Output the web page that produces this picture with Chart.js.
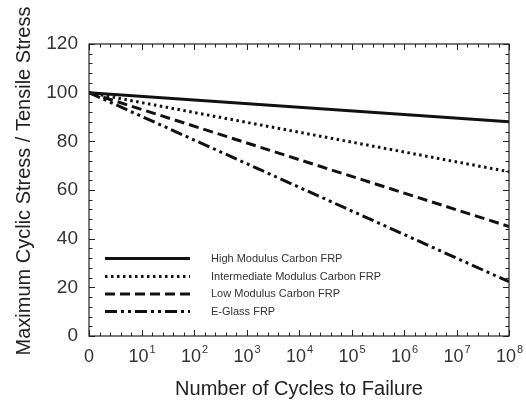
<!DOCTYPE html>
<html><head><meta charset="utf-8">
<script src="https://cdn.jsdelivr.net/npm/chart.js@4.4.1/dist/chart.umd.min.js"></script>
<style>html,body{margin:0;padding:0;background:#fff;}#wrap{width:526px;height:405px;}</style>
</head><body><div id="wrap"><canvas id="c" width="526" height="405"></canvas></div>
<script>
const seriesNames = ["High Modulus Carbon FRP","Intermediate Modulus Carbon FRP","Low Modulus Carbon FRP","E-Glass FRP"];
const logCycles = [0, 8];
const highModulus = [100, 88];
const intermediateModulus = [100, 67.5];
const lowModulus = [100, 45];
const eGlass = [100, 22.3];
const xTickExponents = [0,1,2,3,4,5,6,7,8];
const yTicks = [0,20,40,60,80,100,120];
const yTitle = "Maximum Cyclic Stress / Tensile Stress";
const xTitle = "Number of Cycles to Failure";

const FONT = "'Liberation Sans', Arial, sans-serif";
const styles = [[], [2.5,3.5], [10,5], [12,4,3,4,3,4]];
const allSeries = [highModulus, intermediateModulus, lowModulus, eGlass];

const datasets = allSeries.map((vals,i)=>({
  label: seriesNames[i],
  data: logCycles.map((x,j)=>({x:x,y:vals[j]})),
  borderColor:'#111', borderWidth: 3, borderDash: styles[i],
  pointRadius:0, fill:false, tension:0
}));

const framePlugin = {
  id:'frame',
  afterDatasetsDraw(chart){
    const ctx = chart.ctx, a = chart.chartArea;
    const xs = chart.scales.x, ys = chart.scales.y;
    ctx.save();
    ctx.strokeStyle='#222'; ctx.lineWidth=1.2;
    ctx.strokeRect(a.left, a.top, a.right-a.left, a.bottom-a.top);
    ctx.lineWidth=1;
    for (let v=0; v<=8.0001; v+=0.2){
      const major = Math.abs(v-Math.round(v))<1e-6;
      const L = major?6:3.5;
      const px = Math.round(xs.getPixelForValue(v))+0.5;
      ctx.beginPath();
      ctx.moveTo(px,a.bottom); ctx.lineTo(px,a.bottom-L);
      ctx.moveTo(px,a.top); ctx.lineTo(px,a.top+L);
      ctx.stroke();
    }
    for (let v=0; v<=120.0001; v+=4){
      const major = v%20===0;
      const L = major?6:3.5;
      const py = Math.round(ys.getPixelForValue(v))+0.5;
      ctx.beginPath();
      ctx.moveTo(a.left,py); ctx.lineTo(a.left+L,py);
      ctx.moveTo(a.right,py); ctx.lineTo(a.right-L,py);
      ctx.stroke();
    }
    ctx.fillStyle='#333';
    ctx.textBaseline='alphabetic';
    xTickExponents.forEach(e=>{
      const px = xs.getPixelForValue(e);
      const baseY = a.bottom + 26;
      if (e===0){
        ctx.font = "18px "+FONT; ctx.textAlign='center';
        ctx.fillText("0", px, baseY);
      } else {
        ctx.font = "18px "+FONT;
        const w1 = ctx.measureText("10").width;
        ctx.font = "11px "+FONT;
        const w2 = ctx.measureText(String(e)).width;
        const x0 = px - (w1+w2)/2;
        ctx.textAlign='left';
        ctx.font = "18px "+FONT; ctx.fillText("10", x0, baseY);
        ctx.font = "11px "+FONT; ctx.fillText(String(e), x0+w1+1, baseY-9);
      }
    });
    ctx.save();
    ctx.translate(24, 181);
    ctx.rotate(-Math.PI/2);
    ctx.font = "20px "+FONT; ctx.fillStyle='#222'; ctx.textAlign='center'; ctx.textBaseline='middle';
    ctx.fillText(yTitle, 0, 0);
    ctx.restore();
    const lx0 = a.left+16, lx1 = a.left+101, tx = a.left+122;
    const rowY = [258.5, 276.5, 294, 311.5];
    chart.data.datasets.forEach((ds,i)=>{
      const y = rowY[i];
      ctx.beginPath();
      ctx.setLineDash(ds.borderDash); ctx.lineWidth=3; ctx.strokeStyle='#111';
      ctx.moveTo(lx0,y); ctx.lineTo(lx1,y); ctx.stroke();
      ctx.setLineDash([]);
      ctx.font = "11px "+FONT; ctx.fillStyle='#333'; ctx.textAlign='left'; ctx.textBaseline='middle';
      ctx.fillText(ds.label, tx, y);
    });
    ctx.restore();
  }
};

new Chart(document.getElementById('c'), {
  type:'line',
  data:{datasets},
  options:{
    responsive:false, animation:false, devicePixelRatio:1,
    layout:{padding:{left:0,top:44,right:17,bottom:0}},
    plugins:{legend:{display:false}, tooltip:{enabled:false}},
    scales:{
      x:{type:'linear', min:0, max:8,
        grid:{display:false, drawTicks:false}, border:{display:false},
        ticks:{display:false, stepSize:1},
        title:{display:true, text:xTitle, color:'#222', font:{family:FONT, size:20}, padding:{top:0,bottom:4}},
        afterFit(s){ s.height = 69; s.paddingLeft=0; s.paddingRight=0; }
      },
      y:{type:'linear', min:0, max:120,
        afterBuildTicks(s){ s.ticks = yTicks.map(v=>({value:v})); },
        grid:{display:false, drawTicks:false}, border:{display:false},
        ticks:{color:'#333', font:{family:FONT, size:19}, padding:11},
        title:{display:false},
        afterFit(s){ s.width = 89; s.paddingTop=0; s.paddingBottom=0; }
      }
    }
  },
  plugins:[framePlugin]
});
</script></body></html>
